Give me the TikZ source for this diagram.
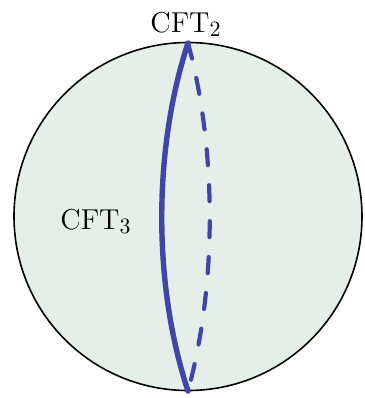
\documentclass[tikz,border=0pt]{standalone}
\usepackage{tikz}
\definecolor{ballfill}{RGB}{228,239,234}
\definecolor{cftblue}{RGB}{64,70,168}
\begin{document}
\begin{tikzpicture}[x=0.5pt,y=-0.5pt,
  lbl/.style={anchor=base,inner sep=0pt,font=\fontsize{15.5}{18}\selectfont},
  solidcurve/.style={draw=cftblue,line width=2.7pt,line cap=round},
  dashcurve/.style={draw=cftblue,line width=2.1pt,line cap=round,dash pattern=on 8pt off 10pt}]
\useasboundingbox (0,0) rectangle (365,398);
\fill[white] (0,0) rectangle (365,398);
\node[draw=black,line width=0.8pt,fill=ballfill,circle,minimum size=174pt,inner sep=0pt] (ball) at (188,216.5) {};
\coordinate (top) at (188,43);
\coordinate (bot) at (188,391);
\draw[dashcurve] (top) .. controls (217,150) and (217,285) .. (bot);
\draw[solidcurve] (top) .. controls (153,150) and (153,285) .. (bot);
\node[lbl] (cft2) at (186,32) {$\mathrm{CFT}_2$};
\node[lbl] (cft3) at (96,229) {$\mathrm{CFT}_3$};
\end{tikzpicture}
\end{document}
